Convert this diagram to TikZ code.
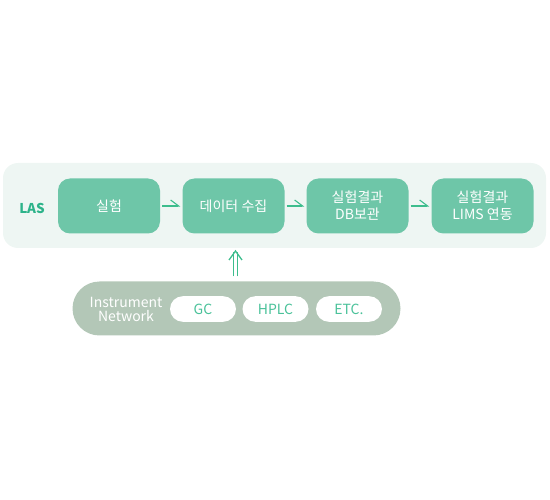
\documentclass[tikz,border=0pt]{standalone}
\usepackage{fontspec}
\setmainfont{Noto Sans CJK KR}
\usetikzlibrary{arrows.meta}
\definecolor{boxgreen}{HTML}{6EC6A8}
\definecolor{lasbg}{HTML}{EEF6F3}
\definecolor{instbg}{HTML}{B3C7B7}
\definecolor{linegreen}{HTML}{3DBD8D}
\definecolor{lastext}{HTML}{2DB38A}
\definecolor{pilltext}{HTML}{4AC29A}
\tikzset{
  stepbox/.style={fill=boxgreen, rounded corners=12pt, minimum width=102pt, minimum height=55pt, inner sep=0pt, text=white, align=center, font=\fontsize{14}{17}\selectfont},
  pill/.style={fill=white, rounded corners=12.8pt, minimum width=66pt, minimum height=25.6pt, inner sep=0pt, text=pilltext, font=\fontsize{14}{16}\selectfont},
  flow/.style={draw=linegreen, line width=1.2pt, -{Straight Barb[left, length=8pt, width=12pt, line width=1.1pt]}},
  upar/.style={draw=linegreen, line width=1.3pt},
}
\begin{document}
\begin{tikzpicture}[x=1pt,y=-1pt]
\useasboundingbox (0,0) rectangle (550,500);
% LAS background
\node[fill=lasbg, rounded corners=15pt, minimum width=543pt, minimum height=85pt, inner sep=0pt] (las) at (274.5,205.5) {};
\node[text=lastext, font=\fontsize{13.5}{15}\selectfont\bfseries] (lastxt) at (32,208) {LAS};
\node[stepbox] (s1) at (109,206) {실험};
\node[stepbox] (s2) at (233.5,206) {데이터 수집};
\node[stepbox] (s3) at (357.5,206) {실험결과\\DB보관};
\node[stepbox] (s4) at (482.5,206) {실험결과\\LIMS 연동};
\draw[flow] ([xshift=2pt]s1.east) -- ([xshift=-2pt]s2.west);
\draw[flow] ([xshift=2pt]s2.east) -- ([xshift=-2pt]s3.west);
\draw[flow] ([xshift=2pt]s3.east) -- ([xshift=-2pt]s4.west);
% Instrument network
\node[fill=instbg, rounded corners=27pt, minimum width=328pt, minimum height=54pt, inner sep=0pt] (inst) at (236.5,308.5) {};
\node[text=white, align=center, font=\fontsize{14}{14}\selectfont] (insttxt) at (126,309) {Instrument\\Network};
\node[pill] (gc) at (203,309) {GC};
\node[pill] (hplc) at (275.5,309) {HPLC};
\node[pill] (etc) at (349,309) {ETC.};
% double up arrow
\coordinate (abot) at (235.5,276.5);
\coordinate (atop) at (235.5,251);
\draw[upar] ([xshift=-1.8pt]abot) -- ([xshift=-1.8pt,yshift=-1pt]atop);
\draw[upar] ([xshift=1.8pt]abot) -- ([xshift=1.8pt,yshift=-1pt]atop);
\draw[upar, line join=miter] ([xshift=-6.5pt,yshift=-9pt]atop) -- (atop) -- ([xshift=6.5pt,yshift=-9pt]atop);
\end{tikzpicture}
\end{document}
